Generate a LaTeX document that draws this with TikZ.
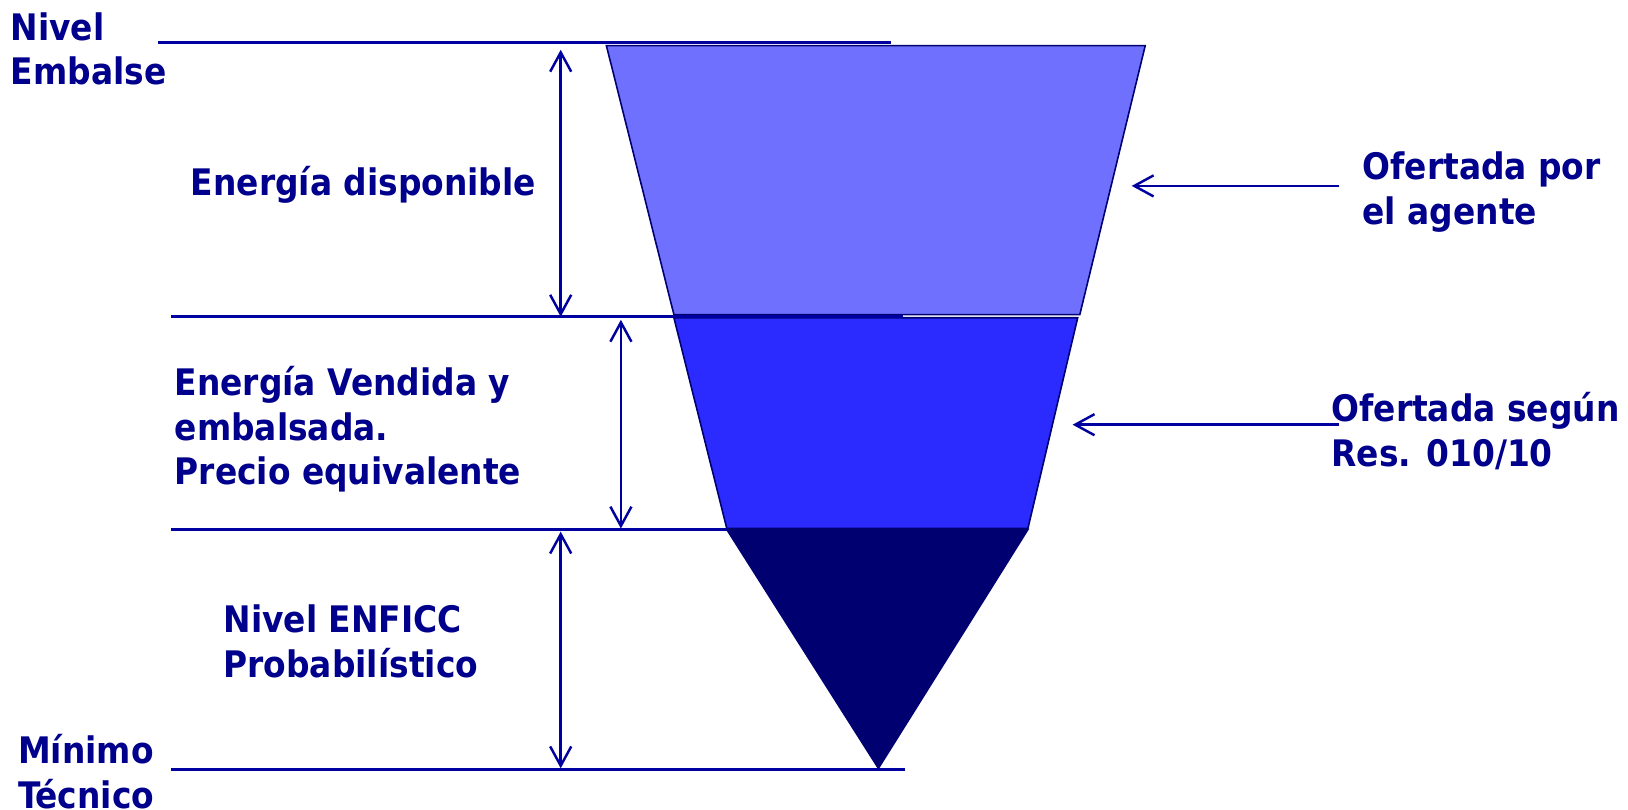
\documentclass[tikz,border=0pt]{standalone}
\usepackage{fontspec}
\setmainfont{DejaVu Sans Condensed}
\usetikzlibrary{arrows.meta}
\definecolor{txtblue}{RGB}{0,0,140}
\definecolor{lineblue}{RGB}{0,0,160}
\definecolor{lightfill}{RGB}{112,112,255}
\definecolor{midfill}{RGB}{43,43,255}
\definecolor{darkfill}{RGB}{0,0,112}
\tikzset{
  level/.style={draw=lineblue,line width=1.6pt},
  band/.style={draw=darkfill,line width=0.9pt},
  dim/.style={lineblue,line width=1.4pt,{Straight Barb[length=11pt,width=12pt]}-{Straight Barb[length=11pt,width=12pt]}},
  pointer/.style={lineblue,line width=1.4pt,-{Straight Barb[length=11pt,width=12pt]}},
  lbl/.style={text=txtblue,font=\fontsize{20.8}{25.5}\selectfont\bfseries,align=left,inner sep=0pt,anchor=west},
}
\begin{document}
\begin{tikzpicture}[x=0.02cm,y=-0.02cm]
\useasboundingbox (0,0) rectangle (1628,809);
% embudo
\filldraw[band,fill=lightfill](606.4,45.7)--(1145.2,45.7)--(1079.8,314.6)--(673.9,314.6)--cycle;
\filldraw[band,fill=midfill](673.9,317.7)--(1077.7,317.7)--(1027.9,528.5)--(726.8,528.5)--cycle;
\filldraw[band,fill=darkfill](726.8,529.5)--(1027.9,529.5)--(878.4,768.3)--cycle;
% niveles
\coordinate (embL) at (157.8,42.6);
\coordinate (embR) at (890.9,42.6);
\coordinate (dispL) at (171.3,316.7);
\coordinate (dispR) at (903,316.7);
\coordinate (vendL) at (171.3,529.5);
\coordinate (vendR) at (726.8,529.5);
\coordinate (minL) at (171.3,769.4);
\coordinate (minR) at (905.4,769.4);
\draw[level](embL)--(embR);
\draw[level](dispL)--(dispR);
\draw[level](vendL)--(vendR);
\draw[level](minL)--(minR);
% cotas
\coordinate (cotaAt) at (560.7,49.8);
\coordinate (cotaAb) at (560.7,316.7);
\coordinate (cotaBt) at (620.9,319.8);
\coordinate (cotaBb) at (620.9,528.5);
\coordinate (cotaCt) at (560.7,531.6);
\coordinate (cotaCb) at (560.7,768.3);
\draw[dim](cotaAt)--(cotaAb);
\draw[dim](cotaBt)--(cotaBb);
\draw[dim](cotaCt)--(cotaCb);
% textos
\node[lbl] (nivel) at (10.4,48.9) {Nivel\\Embalse};
\node[lbl,anchor=center] (disp) at (363.4,184.8) {Energía disponible};
\node[lbl] (vend) at (174.4,429.3) {Energía Vendida y\\embalsada.\\Precio equivalente};
\node[lbl] (enficc) at (223.2,641.7) {Nivel ENFICC\\Probabilístico};
\node[lbl] (minimo) at (17.7,771.4) {Mínimo\\Técnico};
\node[lbl] (agente) at (1362.3,192) {Ofertada por\\el agente};
\node[lbl] (res) at (1331.1,430.9) {Ofertada según\\Res. 010/10};
% flechas
\coordinate (flechaAs) at (1339.4,185.9);
\coordinate (flechaAe) at (1131.7,185.9);
\coordinate (flechaBs) at (1339.4,424.7);
\coordinate (flechaBe) at (1072.6,424.7);
\draw[pointer](flechaAs)--(flechaAe);
\draw[pointer](flechaBs)--(flechaBe);
\end{tikzpicture}
\end{document}
